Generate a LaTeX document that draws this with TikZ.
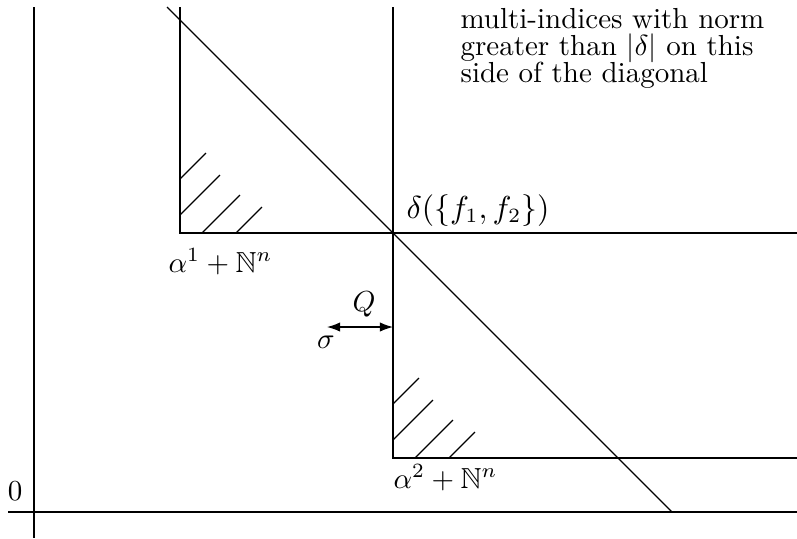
\documentclass[tikz,border=0pt]{standalone}
\usepackage{amssymb}
\usetikzlibrary{arrows.meta}
\begin{document}
\begin{tikzpicture}[x=0.345pt,y=-0.345pt,
  lbl/.style={inner sep=0pt, anchor=base west},
  axisline/.style={line width=0.4pt},
  hatchline/.style={line width=0.4pt},
  dimarrow/.style={{Latex[length=4.5pt,width=3.2pt]}-{Latex[length=4.5pt,width=3.2pt]}, line width=0.4pt}]
\useasboundingbox (0,0) rectangle (797,538);
% axes
\coordinate (ytop) at (34,7);
\coordinate (ybot) at (34,538);
\coordinate (xl) at (8,512);
\coordinate (xr) at (797,512);
\draw[axisline] (ytop) -- (ybot);
\draw[axisline] (xl) -- (xr);
\node[inner sep=0pt] (zero) at (15,491) {$0$};
% corners
\coordinate (c1) at (180,233);
\coordinate (c2) at (393,458);
\coordinate (c1top) at (180,7);
\coordinate (c2top) at (393,7);
\coordinate (c1right) at (797,233);
\coordinate (c2right) at (797,458);
\coordinate (dstart) at (167,7);
\coordinate (dend) at (672,512);
\draw[axisline] (c1top) -- (c1) -- (c1right);
\draw[axisline] (c2top) -- (c2) -- (c2right);
\draw[axisline] (dstart) -- (dend);
% hatches
\foreach \c in {c1,c2}{
  \draw[hatchline] ([shift={(0,-54)}]\c) -- ++(26,-26);
  \draw[hatchline] ([shift={(0,-18)}]\c) -- ++(40,-40);
  \draw[hatchline] ([shift={(22,0)}]\c) -- ++(38,-38);
  \draw[hatchline] ([shift={(56,0)}]\c) -- ++(26,-26);
}
% labels
\node[lbl] (a1) at (168,272) {$\alpha^1+\mathbb{N}^n$};
\node[lbl] (a2) at (393,488) {$\alpha^2+\mathbb{N}^n$};
\node[lbl, font=\fontsize{10.5}{12}\selectfont] (delta) at (406,218) {$\delta(\{f_1,f_2\})$};
\node[inner sep=0pt, anchor=north west, align=left,
      font={\fontsize{10}{9.3}\selectfont\lineskiplimit=-20pt\lineskip=0pt}] (note) at (460,8)
  {multi-indices with norm\\greater than $|\delta|$ on this\\side of the diagonal};
% arrow
\coordinate (sigpt) at (327,327);
\coordinate (qpt) at (393,327);
\draw[dimarrow] (sigpt) -- (qpt);
\node[inner sep=0pt] (Q) at (364,304) {$Q$};
\node[inner sep=0pt] (sigma) at (326,342) {$\sigma$};
\end{tikzpicture}
\end{document}
